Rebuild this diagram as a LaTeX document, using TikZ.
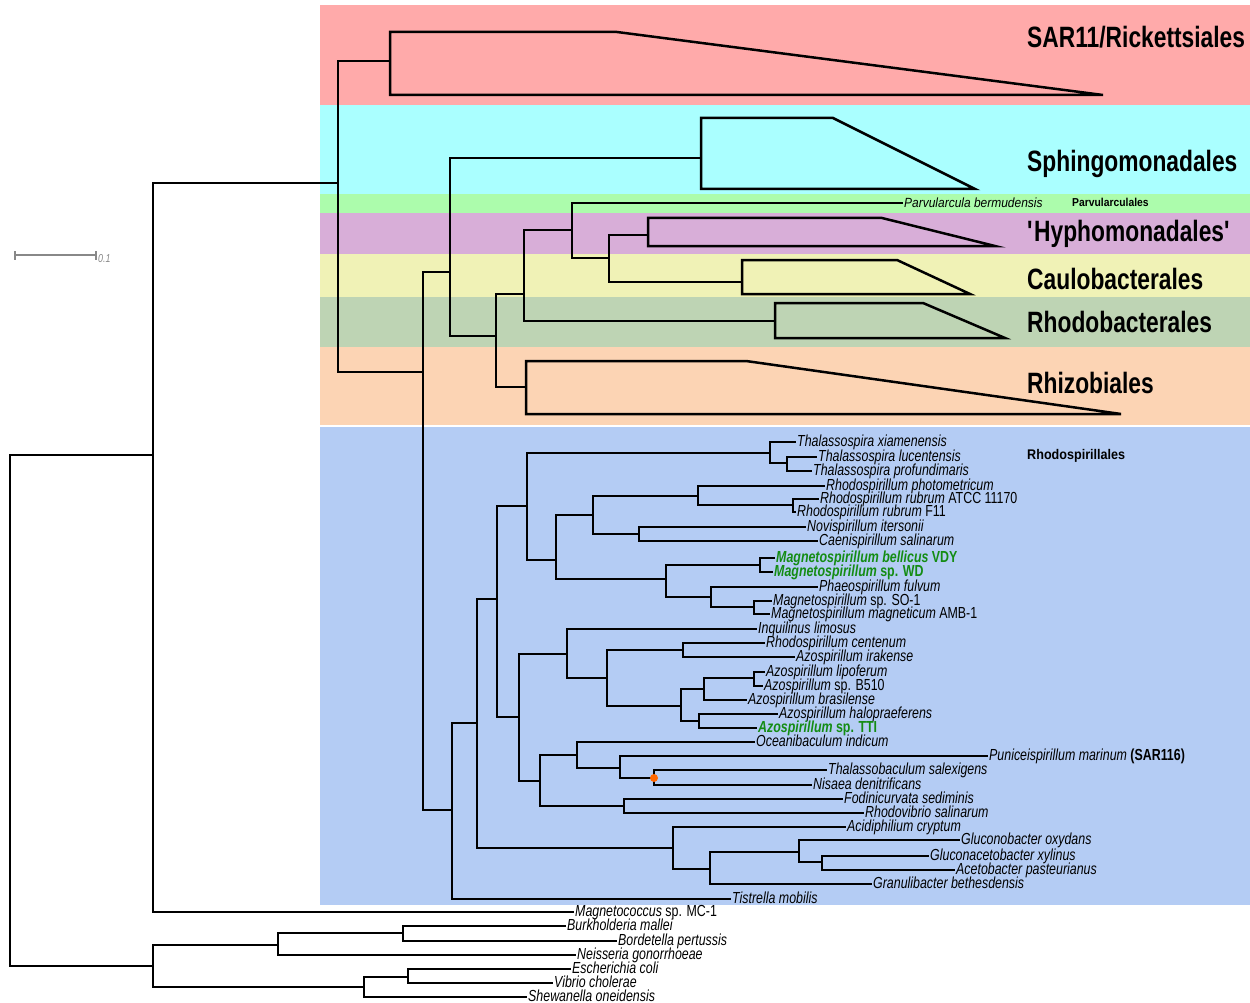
\documentclass[tikz,border=0pt]{standalone}
\usepackage{fontspec}
\setmainfont{Liberation Sans}[FakeStretch=0.775]
\newfontfamily\widesans{Liberation Sans}[FakeStretch=0.9]
\usepackage{xcolor}
\usepackage{tikz}

\definecolor{sarred}{RGB}{255,170,170}
\definecolor{sphcyan}{RGB}{170,255,255}
\definecolor{parvgreen}{RGB}{172,252,172}
\definecolor{hyphpurple}{RGB}{216,174,216}
\definecolor{caulyellow}{RGB}{240,242,182}
\definecolor{rhodobgreen}{RGB}{190,212,180}
\definecolor{rhizopeach}{RGB}{252,212,180}
\definecolor{rhodospblue}{RGB}{180,204,244}
\definecolor{magneto}{RGB}{20,140,20}
\definecolor{ancdot}{RGB}{255,102,0}
\definecolor{scalegray}{RGB}{136,136,136}

\begin{document}
\begin{tikzpicture}[x=1pt,y=-1pt,
  branch/.style={line width=2.5pt},
  leaf/.style={anchor=west,inner sep=1pt,text height=11pt,text depth=2pt,
    font=\fontsize{16}{16}\selectfont},
  magleaf/.style={leaf,text=magneto,font=\bfseries\fontsize{16}{16}\selectfont},
  clade/.style={anchor=base west,inner sep=0pt,font=\bfseries\fontsize{29.4}{30}\selectfont},
  order/.style={anchor=base west,inner sep=0pt,font=\widesans\bfseries\fontsize{14}{15}\selectfont}]
  \useasboundingbox (0,0) rectangle (1250,1003);

  % coloured order bands
  \fill[sarred] (320,5) rectangle (1250,105);
  \fill[sphcyan] (320,105) rectangle (1250,194);
  \fill[parvgreen] (320,194) rectangle (1250,213);
  \fill[hyphpurple] (320,213) rectangle (1250,254);
  \fill[caulyellow] (320,254) rectangle (1250,297);
  \fill[rhodobgreen] (320,297) rectangle (1250,347);
  \fill[rhizopeach] (320,347) rectangle (1250,425);
  \fill[rhodospblue] (320,427) rectangle (1250,905);

  % scale bar
  \coordinate (sb0) at (15,255);
  \coordinate (sb1) at (96,255);
  \draw[scalegray,line width=2.5pt] (sb0) -- (sb1);
  \draw[scalegray,line width=2pt] (15,251) -- (15,260) (96,251) -- (96,260);
  \node[anchor=west,inner sep=1pt,text=scalegray,font=\itshape\fontsize{11.5}{11}\selectfont] (sblab) at (97,259) {0.1};

  % inner nodes
  \coordinate (root) at (10,710);
  \coordinate (ingrp) at (153,455);
  \coordinate (outgrp) at (153,966);
  \coordinate (alpha) at (338,183);
  \coordinate (sar) at (390,61);
  \coordinate (n423) at (423,372);
  \coordinate (n450) at (450,272);
  \coordinate (sph) at (701,158);
  \coordinate (n496) at (496,336);
  \coordinate (n524) at (524,294);
  \coordinate (rhz) at (526,387);
  \coordinate (n572) at (572,230);
  \coordinate (rhb) at (775,321);
  \coordinate (n609) at (609,258);
  \coordinate (hyp) at (648,235);
  \coordinate (cau) at (742,282);
  \coordinate (n452) at (452,810);
  \coordinate (n477) at (477,723);
  \coordinate (n497) at (497,599);
  \coordinate (n673) at (673,848);
  \coordinate (n527) at (527,506);
  \coordinate (n519) at (519,717);
  \coordinate (n770) at (770,453);
  \coordinate (n787) at (787,463);
  \coordinate (n556) at (556,560);
  \coordinate (n593) at (593,515);
  \coordinate (n698) at (698,496);
  \coordinate (n793) at (793,505);
  \coordinate (n639) at (639,534);
  \coordinate (n666) at (666,579);
  \coordinate (n760) at (760,565);
  \coordinate (n711) at (711,597);
  \coordinate (n754) at (754,607);
  \coordinate (n567) at (567,654);
  \coordinate (n607) at (607,678);
  \coordinate (n683) at (683,650);
  \coordinate (n681) at (681,706);
  \coordinate (n704) at (704,689);
  \coordinate (alpb) at (754,678);
  \coordinate (n699) at (699,721);
  \coordinate (n540) at (540,781);
  \coordinate (n577) at (577,755);
  \coordinate (n620) at (620,768);
  \coordinate (n654) at (654,778);
  \coordinate (n624) at (624,806);
  \coordinate (n710) at (710,869);
  \coordinate (n799) at (799,852);
  \coordinate (n822) at (822,862);
  \coordinate (n278) at (278,945);
  \coordinate (n403) at (403,933);
  \coordinate (n364) at (364,987);
  \coordinate (n408) at (408,977);

  % leaves
  \node[leaf,font=\widesans\fontsize{13.3}{14}\selectfont] (pbe) at (903,203) {\textit{Parvularcula bermudensis}};
  \node[leaf] (thx) at (796,442) {\textit{Thalassospira xiamenensis}};
  \node[leaf] (thl) at (817,457) {\textit{Thalassospira lucentensis}};
  \node[leaf] (thp) at (812,471) {\textit{Thalassospira profundimaris}};
  \node[leaf] (rph) at (825,486) {\textit{Rhodospirillum photometricum}};
  \node[leaf] (rra) at (819,499) {\textit{Rhodospirillum rubrum} ATCC 11170};
  \node[leaf] (rrf) at (796,512) {\textit{Rhodospirillum rubrum} F11};
  \node[leaf] (nov) at (806,527) {\textit{Novispirillum itersonii}};
  \node[leaf] (cae) at (818,541) {\textit{Caenispirillum salinarum}};
  \node[magleaf] (mbe) at (775,558) {\textit{Magnetospirillum bellicus} VDY};
  \node[magleaf] (mwd) at (773,572) {\textit{Magnetospirillum} sp. WD};
  \node[leaf] (pha) at (818,587) {\textit{Phaeospirillum fulvum}};
  \node[leaf] (mso) at (772,601) {\textit{Magnetospirillum} sp. SO-1};
  \node[leaf] (mam) at (770,614) {\textit{Magnetospirillum magneticum} AMB-1};
  \node[leaf] (inq) at (757,629) {\textit{Inquilinus limosus}};
  \node[leaf] (rce) at (765,643) {\textit{Rhodospirillum centenum}};
  \node[leaf] (air) at (795,657) {\textit{Azospirillum irakense}};
  \node[leaf] (alp) at (765,672) {\textit{Azospirillum lipoferum}};
  \node[leaf] (ab5) at (763,686) {\textit{Azospirillum} sp. B510};
  \node[leaf] (abr) at (747,700) {\textit{Azospirillum brasilense}};
  \node[leaf] (aha) at (778,714) {\textit{Azospirillum halopraeferens}};
  \node[magleaf] (att) at (757,728) {\textit{Azospirillum} sp. TTI};
  \node[leaf] (oce) at (755,742) {\textit{Oceanibaculum indicum}};
  \node[leaf] (pun) at (988,756) {\textit{Puniceispirillum marinum} \textbf{(SAR116)}};
  \node[leaf] (tsa) at (827,770) {\textit{Thalassobaculum salexigens}};
  \node[leaf] (nis) at (812,785) {\textit{Nisaea denitrificans}};
  \node[leaf] (fod) at (843,799) {\textit{Fodinicurvata sediminis}};
  \node[leaf] (rvs) at (864,813) {\textit{Rhodovibrio salinarum}};
  \node[leaf] (aci) at (846,827) {\textit{Acidiphilium cryptum}};
  \node[leaf] (glo) at (960,840) {\textit{Gluconobacter oxydans}};
  \node[leaf] (gla) at (929,856) {\textit{Gluconacetobacter xylinus}};
  \node[leaf] (ace) at (955,870) {\textit{Acetobacter pasteurianus}};
  \node[leaf] (gra) at (872,884) {\textit{Granulibacter bethesdensis}};
  \node[leaf] (tis) at (731,899) {\textit{Tistrella mobilis}};
  \node[leaf] (mgc) at (574,912) {\textit{Magnetococcus} sp. MC-1};
  \node[leaf] (bur) at (566,926) {\textit{Burkholderia mallei}};
  \node[leaf] (bor) at (617,941) {\textit{Bordetella pertussis}};
  \node[leaf] (nei) at (576,955) {\textit{Neisseria gonorrhoeae}};
  \node[leaf] (eco) at (571,969) {\textit{Escherichia coli}};
  \node[leaf] (vib) at (553,983) {\textit{Vibrio cholerae}};
  \node[leaf] (she) at (527,997) {\textit{Shewanella oneidensis}};

  % collapsed clades
  \draw[branch] (390,32) -- (617,32) -- (1103,95) -- (390,95) -- cycle;
  \draw[branch] (701,118) -- (833,118) -- (975,189) -- (701,189) -- cycle;
  \draw[branch] (648,218) -- (882,218) -- (995,246) -- (648,246) -- cycle;
  \draw[branch] (742,260) -- (897,260) -- (970,294) -- (742,294) -- cycle;
  \draw[branch] (775,303) -- (923,303) -- (1005,338) -- (775,338) -- cycle;
  \draw[branch] (526,361) -- (746,361) -- (1121,414) -- (526,414) -- cycle;

  % branches
  \draw[branch] (root) |- (ingrp) (root) |- (outgrp);
  \draw[branch] (ingrp) |- (alpha) (ingrp) |- (mgc);
  \draw[branch] (alpha) |- (sar) (alpha) |- (n423);
  \draw[branch] (n423) |- (n450) (n423) |- (n452);
  \draw[branch] (n450) |- (sph) (n450) |- (n496);
  \draw[branch] (n496) |- (n524) (n496) |- (rhz);
  \draw[branch] (n524) |- (n572) (n524) |- (rhb);
  \draw[branch] (n572) |- (pbe) (n572) |- (n609);
  \draw[branch] (n609) |- (hyp) (n609) |- (cau);
  \draw[branch] (n452) |- (n477) (n452) |- (tis);
  \draw[branch] (n477) |- (n497) (n477) |- (n673);
  \draw[branch] (n497) |- (n527) (n497) |- (n519);
  \draw[branch] (n527) |- (n770) (n527) |- (n556);
  \draw[branch] (n770) |- (thx) (n770) |- (n787);
  \draw[branch] (n787) |- (thl) (n787) |- (thp);
  \draw[branch] (n556) |- (n593) (n556) |- (n666);
  \draw[branch] (n593) |- (n698) (n593) |- (n639);
  \draw[branch] (n698) |- (rph) (n698) |- (n793);
  \draw[branch] (n793) |- (rra) (n793) |- (rrf);
  \draw[branch] (n639) |- (nov) (n639) |- (cae);
  \draw[branch] (n666) |- (n760) (n666) |- (n711);
  \draw[branch] (n760) |- (mbe) (n760) |- (mwd);
  \draw[branch] (n711) |- (pha) (n711) |- (n754);
  \draw[branch] (n754) |- (mso) (n754) |- (mam);
  \draw[branch] (n519) |- (n567) (n519) |- (n540);
  \draw[branch] (n567) |- (inq) (n567) |- (n607);
  \draw[branch] (n607) |- (n683) (n607) |- (n681);
  \draw[branch] (n683) |- (rce) (n683) |- (air);
  \draw[branch] (n681) |- (n704) (n681) |- (n699);
  \draw[branch] (n704) |- (alpb) (n704) |- (abr);
  \draw[branch] (alpb) |- (alp) (alpb) |- (ab5);
  \draw[branch] (n699) |- (aha) (n699) |- (att);
  \draw[branch] (n540) |- (n577) (n540) |- (n624);
  \draw[branch] (n577) |- (oce) (n577) |- (n620);
  \draw[branch] (n620) |- (pun) (n620) |- (n654);
  \draw[branch] (n654) |- (tsa) (n654) |- (nis);
  \draw[branch] (n624) |- (fod) (n624) |- (rvs);
  \draw[branch] (n673) |- (aci) (n673) |- (n710);
  \draw[branch] (n710) |- (n799) (n710) |- (gra);
  \draw[branch] (n799) |- (glo) (n799) |- (n822);
  \draw[branch] (n822) |- (gla) (n822) |- (ace);
  \draw[branch] (outgrp) |- (n278) (outgrp) |- (n364);
  \draw[branch] (n278) |- (n403) (n278) |- (nei);
  \draw[branch] (n403) |- (bur) (n403) |- (bor);
  \draw[branch] (n364) |- (n408) (n364) |- (she);
  \draw[branch] (n408) |- (eco) (n408) |- (vib);
  \node[circle,fill=ancdot,inner sep=0pt,minimum size=8pt] (ancnode) at (n654) {};

  % order labels
  \node[clade] (sarlab) at (1027,48) {SAR11/Rickettsiales};
  \node[clade] (sphlab) at (1027,172) {Sphingomonadales};
  \node[clade] (hyplab) at (1027,241) {\textquotesingle Hyphomonadales\textquotesingle};
  \node[clade] (caulab) at (1027,289) {Caulobacterales};
  \node[clade] (rhblab) at (1027,332) {Rhodobacterales};
  \node[clade] (rhzlab) at (1027,393) {Rhizobiales};
  \node[order] (rsplab) at (1027,459) {Rhodospirillales};
  \node[order,font=\widesans\bfseries\fontsize{11.5}{12}\selectfont] (parlab) at (1072,207) {Parvularculales};
\end{tikzpicture}
\end{document}
